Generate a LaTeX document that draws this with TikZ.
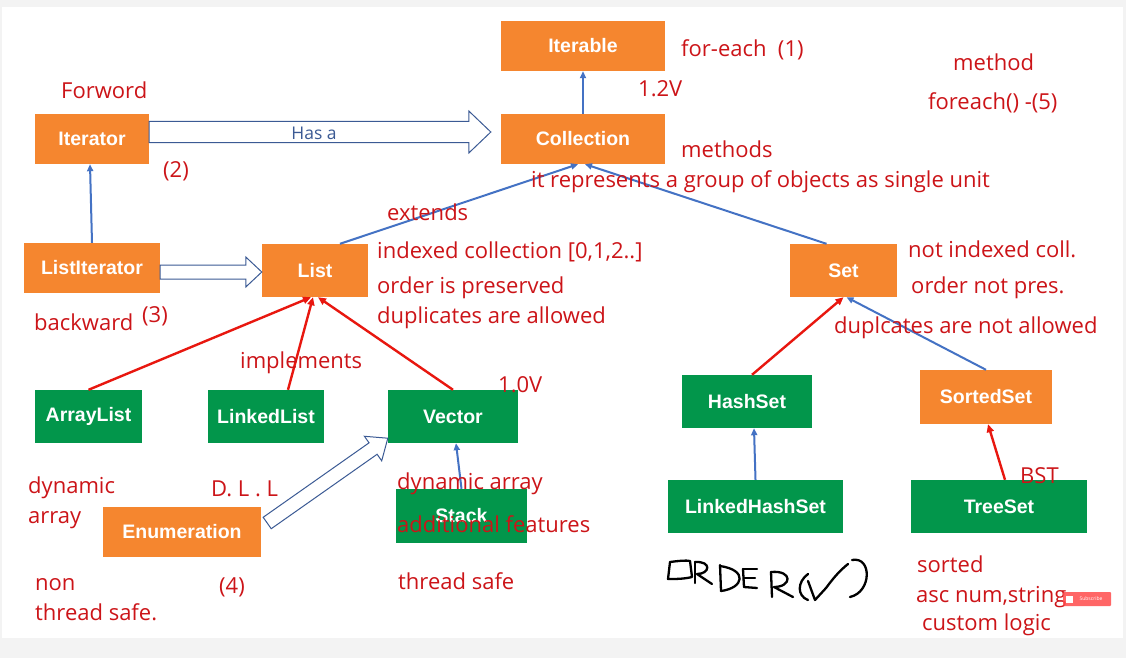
\documentclass[tikz,border=0pt]{standalone}
\usepackage{fontspec}
\setmainfont{Open Sans}
\newfontfamily\boxfont{Liberation Sans}
\usetikzlibrary{arrows.meta,calc}
\definecolor{orng}{HTML}{F5862F}
\definecolor{grn}{HTML}{02964B}
\definecolor{rtxt}{HTML}{CC1418}
\definecolor{bline}{HTML}{4472C4}
\definecolor{rline}{HTML}{E8170F}
\definecolor{harrow}{HTML}{3B5A94}
\definecolor{bggray}{HTML}{F3F3F3}
% fat hollow arrow: #1 from, #2 to, #3 shaft half width, #4 head half width, #5 head length
\newcommand\fatarrow[5]{%
  \coordinate (fa-h) at ($(#2)!#5!(#1)$);
  \draw[hollow] ($(#1)!#3!90:(#2)$) -- ($(fa-h)!#3!90:(#2)$) -- ($(fa-h)!#4!90:(#2)$)
    -- (#2) -- ($(fa-h)!#4!-90:(#2)$) -- ($(fa-h)!#3!-90:(#2)$) -- ($(#1)!#3!-90:(#2)$) -- cycle;}
\begin{document}
\begin{tikzpicture}[x=1pt,y=-1pt,
  obox/.style={fill=orng,text=white,font=\boxfont\bfseries\fontsize{19.5}{22}\selectfont,inner sep=0pt},
  gbox/.style={obox,fill=grn},
  note/.style={text=rtxt,font=\fontsize{22}{26}\selectfont,anchor=base west,inner sep=0pt},
  blink/.style={draw=bline,line width=2pt,-{Triangle[length=7pt,width=6pt]}},
  rlink/.style={draw=rline,line width=2.4pt,-{Triangle[length=8pt,width=7pt]}},
  hollow/.style={draw=harrow,fill=white,line width=1pt,line join=miter},
  hand/.style={draw=black,line width=2.3pt,line cap=round,line join=round},
]
\useasboundingbox (0,0) rectangle (1126,658);
\fill[bggray] (0,0) rectangle (1126,658);
\fill[white] (2,7) rectangle (1123,638);

% boxes
\node[obox,minimum width=164pt,minimum height=50pt] (iterable) at (583,46) {Iterable};
\node[obox,minimum width=164pt,minimum height=50pt] (collection) at (583,139) {Collection};
\node[obox,minimum width=114pt,minimum height=50pt] (iterator) at (92,139) {Iterator};
\node[obox,minimum width=136pt,minimum height=50pt] (listiterator) at (92,268) {ListIterator};
\node[obox,minimum width=106pt,minimum height=53pt] (list) at (315,270.5) {List};
\node[obox,minimum width=107pt,minimum height=53pt] (set) at (843.5,270.5) {Set};
\node[gbox,minimum width=107pt,minimum height=53pt] (arraylist) at (88.5,416.5) {ArrayList};
\node[gbox,minimum width=116pt,minimum height=53pt] (linkedlist) at (266,416.5) {LinkedList};
\node[gbox,minimum width=130pt,minimum height=53pt] (vector) at (453,416.5) {Vector};
\node[gbox,minimum width=130pt,minimum height=53pt] (hashset) at (747,401.5) {HashSet};
\node[obox,minimum width=132pt,minimum height=54pt] (sortedset) at (986,397) {SortedSet};
\node[obox,minimum width=158pt,minimum height=50pt] (enumeration) at (182,532) {Enumeration};
\node[gbox,minimum width=131pt,minimum height=54pt] (stack) at (461.5,516) {Stack};
\node[gbox,minimum width=175pt,minimum height=53pt] (linkedhashset) at (755.5,506.5) {LinkedHashSet};
\node[gbox,minimum width=176pt,minimum height=53pt] (treeset) at (999,506.5) {TreeSet};

% hollow arrows
\coordinate (hasa-s) at ([yshift=7pt]iterator.east);
\coordinate (hasa-e) at ([xshift=-10pt,yshift=7pt]collection.west);
\fatarrow{hasa-s}{hasa-e}{10.5pt}{21pt}{22pt}
\node[text=harrow,font=\fontsize{17.5}{20}\selectfont,inner sep=0pt] (hasalbl) at (314,133) {Has a};
\coordinate (li-s) at ([yshift=-4pt]listiterator.east);
\coordinate (li-e) at ([yshift=-1.5pt]list.west);
\fatarrow{li-s}{li-e}{7pt}{15pt}{16pt}
\coordinate (en-s) at ([xshift=6pt,yshift=9pt]enumeration.east);
\coordinate (en-e) at ([yshift=5pt]vector.south west);
\fatarrow{en-s}{en-e}{7pt}{15pt}{18pt}

% connectors
\draw[blink] (collection.north) -- (iterable.south);
\draw[blink] (listiterator.north) -- ([xshift=-2pt]iterator.south);
\draw[blink] ([xshift=25pt]list.north) -- ([xshift=-5pt]collection.south);
\draw[blink] ([xshift=-17pt]set.north) -- ([xshift=2pt]collection.south);
\draw[rlink] (arraylist.north) -- ([xshift=-4pt]list.south);
\draw[rlink] ([xshift=22pt]linkedlist.north) -- ([xshift=-2pt]list.south);
\draw[rlink] (vector.north) -- ([xshift=3pt]list.south);
\draw[blink] (stack.north) -- ([xshift=3pt]vector.south);
\draw[rlink] ([xshift=5pt]hashset.north) -- (set.south);
\draw[blink] (sortedset.north) -- ([xshift=3pt]set.south);
\draw[blink] (linkedhashset.north) -- ([xshift=7pt]hashset.south);
\draw[rlink] ([xshift=6pt]treeset.north) -- ([xshift=2pt]sortedset.south);

% notes
\node[note] (n1) at (681,57) {for-each\ \ (1)};
\node[note] (n2) at (953,71) {method};
\node[note] (n3) at (928,110) {foreach() -(5)};
\node[note] (n4) at (638,97) {1.2V};
\node[note] (n5) at (61,99) {Forword};
\node[note] (n6) at (163,177) {(2)};
\node[note] (n7) at (681,157) {methods};
\node[note] (n8) at (531,187) {it represents a group of objects as single unit};
\node[note] (n9) at (387,220) {extends};
\node[note] (n10) at (377,258) {indexed collection [0,1,2..]};
\node[note] (n11) at (377,293) {order is preserved};
\node[note] (n12) at (377,323) {duplicates are allowed};
\node[note] (n13) at (908,257) {not indexed coll.};
\node[note] (n14) at (911,293) {order not pres.};
\node[note] (n15) at (834,333) {duplcates are not allowed};
\node[note] (n16) at (34,330) {backward};
\node[note] (n17) at (142,322) {(3)};
\node[note] (n18) at (240,368) {implements};
\node[note] (n19) at (498,392) {1.0V};
\node[note] (n20) at (28,493) {dynamic};
\node[note] (n21) at (28,523) {array};
\node[note] (n22) at (211,496) {D. L . L};
\node[note] (n23) at (397,489) {dynamic array};
\node[note] (n24) at (397,532) {additional features};
\node[note] (n25) at (35,590) {non};
\node[note] (n26) at (35,620) {thread safe.};
\node[note] (n27) at (219,593) {(4)};
\node[note] (n28) at (398,589) {thread safe};
\node[note] (n29) at (1020,483) {BST};
\node[note] (n30) at (917,572) {sorted};
\node[note] (n31) at (916,602) {asc num,string};
\node[note] (n32) at (922,630) {custom logic};

% handwritten ORDER(v)
\draw[hand] (670,562) .. controls (678,561) and (686,560) .. (690,561) -- (692,577) .. controls (684,579) and (676,579) .. (668,579) -- cycle;
\draw[hand] (695,562) -- (695,583);
\draw[hand] (695,562) .. controls (712,561) and (710,574) .. (697,574) -- (712,584);
\draw[hand] (720,565) -- (721,591);
\draw[hand] (720,566) .. controls (748,570) and (744,588) .. (721,591);
\draw[hand] (743,569) -- (744,587);
\draw[hand] (743,569) -- (757,569);
\draw[hand] (744,578) -- (755,578);
\draw[hand] (744,587) -- (757,588);
\draw[hand] (771,572) -- (772,597);
\draw[hand] (771,572) .. controls (793,570) and (792,587) .. (774,587) -- (793,597);
\draw[hand] (808,574) .. controls (797,582) and (797,596) .. (808,600);
\draw[hand] (808,581) -- (815,600) -- (826,588) .. controls (832,580) and (838,572) .. (848,564);
\draw[hand] (852,560) .. controls (872,556) and (872,592) .. (850,597);

% subscribe overlay
\node[fill=red!70!white,opacity=0.85,text=white,text opacity=1,minimum width=48pt,minimum height=14pt,inner sep=0pt,font=\fontsize{5}{6}\selectfont,rounded corners=1pt] (subscribe) at (1087,599) {\hspace{8pt}Subscribe};
\fill[white] ([xshift=3pt,yshift=-3.5pt]subscribe.west) rectangle ([xshift=10pt,yshift=3.5pt]subscribe.west);
\end{tikzpicture}
\end{document}
